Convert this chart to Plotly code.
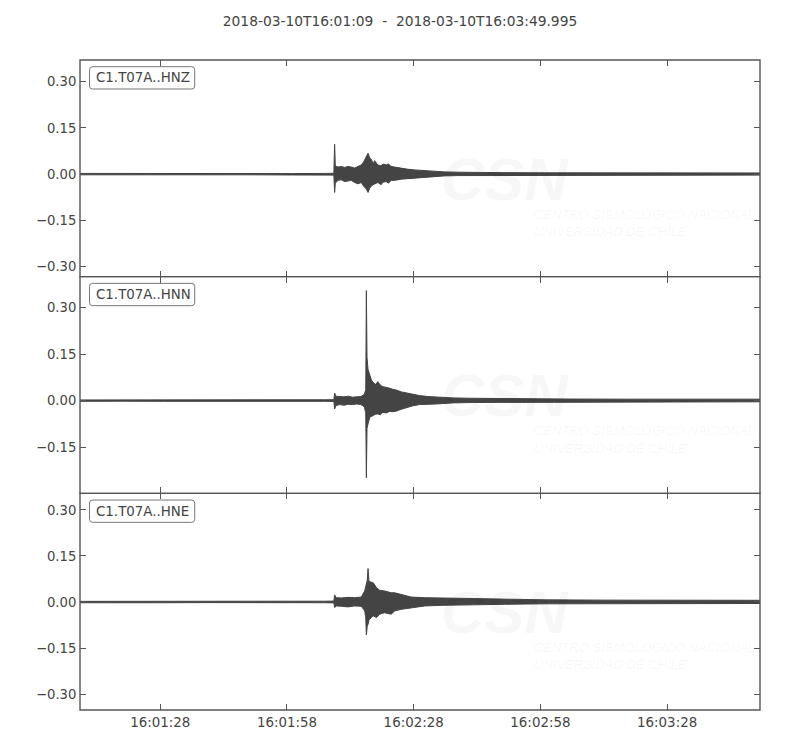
import pandas as pd
import plotly.graph_objects as go
from plotly.subplots import make_subplots

# ---------------- data (envelopes) ----------------
start_time = "2018-03-10 16:01:09"
end_time = "2018-03-10 16:03:49.995"
title_text = "2018-03-10T16:01:09\u00a0\u00a0-\u00a0\u00a02018-03-10T16:03:49.995"
channels = ["C1.T07A..HNZ", "C1.T07A..HNN", "C1.T07A..HNE"]

# seconds after start time
hnz_t = [0, 10, 20, 30, 40, 50, 57.9, 60.1, 60.28, 60.45, 61.07, 61.85, 62.65, 63.44, 64.22,
         65.0, 65.8, 66.6, 67.2, 67.8, 68.2, 68.6, 69.0, 69.4, 69.75, 70.5, 71.3, 71.7, 72.5,
         73.0, 73.7, 74.5, 76.1, 77.65, 79.2, 81.6, 84.0, 86.3, 89.5, 93.4, 100, 110, 120,
         130, 140, 150, 160.995]
hnz_up = [0.0025, 0.002, 0.0025, 0.002, 0.0025, 0.002, 0.0025, 0.003, 0.097, 0.027, 0.023,
          0.025, 0.022, 0.025, 0.023, 0.020, 0.025, 0.030, 0.041, 0.057, 0.068, 0.052, 0.048,
          0.033, 0.044, 0.030, 0.027, 0.033, 0.030, 0.033, 0.025, 0.023, 0.019, 0.016, 0.014,
          0.011, 0.009, 0.0075, 0.0065, 0.0055, 0.005, 0.0045, 0.0045, 0.004, 0.004, 0.004,
          0.004]
hnz_lo = [-0.002, -0.0025, -0.002, -0.0025, -0.002, -0.0025, -0.0025, -0.003, -0.059, -0.029,
          -0.020, -0.018, -0.024, -0.022, -0.020, -0.027, -0.031, -0.027, -0.040, -0.048,
          -0.059, -0.045, -0.038, -0.034, -0.031, -0.027, -0.034, -0.026, -0.024, -0.029,
          -0.020, -0.020, -0.016, -0.013, -0.012, -0.010, -0.0075, -0.0055, -0.0045, -0.0035,
          -0.0035, -0.003, -0.003, -0.003, -0.003, -0.003, -0.003]

hnn_t = [0, 10, 20, 30, 40, 50, 57.9, 60.1, 60.28, 60.6, 61.5, 62.5, 63.5, 64.5, 65.5, 66.5,
         67.3, 67.65, 67.8, 67.95, 68.2, 68.6, 69.0, 69.4, 70.0, 70.5, 71.1, 71.7, 72.5, 73.3,
         74.1, 74.9, 76.1, 77.3, 78.8, 80.4, 82.4, 84.4, 88.3, 92.3, 96.2, 103.3, 115, 130,
         145, 160.995]
hnn_up = [0.002, 0.0025, 0.002, 0.0025, 0.002, 0.0025, 0.0025, 0.003, 0.024, 0.014, 0.013,
          0.012, 0.014, 0.011, 0.012, 0.013, 0.020, 0.035, 0.355, 0.140, 0.100, 0.081, 0.066,
          0.059, 0.052, 0.061, 0.050, 0.045, 0.043, 0.040, 0.036, 0.034, 0.028, 0.024, 0.019,
          0.016, 0.013, 0.011, 0.0086, 0.0075, 0.007, 0.0055, 0.005, 0.0045, 0.0045, 0.0045]
hnn_lo = [-0.0025, -0.002, -0.0025, -0.002, -0.0025, -0.002, -0.0025, -0.003, -0.027, -0.016,
          -0.013, -0.015, -0.012, -0.013, -0.011, -0.013, -0.020, -0.040, -0.249, -0.090,
          -0.075, -0.054, -0.050, -0.048, -0.044, -0.043, -0.046, -0.038, -0.040, -0.035,
          -0.036, -0.034, -0.028, -0.022, -0.017, -0.013, -0.012, -0.011, -0.0075, -0.0065,
          -0.006, -0.005, -0.0045, -0.004, -0.004, -0.004]

hne_t = [0, 10, 20, 30, 40, 50, 57.9, 60.1, 60.28, 60.68, 61.85, 63.44, 65.0, 66.6, 67.4,
         67.65, 67.8, 68.0, 68.2, 68.4, 68.6, 69.4, 70.2, 70.94, 72.1, 73.7, 74.5, 76.1, 78.4,
         81.6, 85.5, 89.5, 93.4, 100.5, 110, 125, 140, 160.995]
hne_up = [0.002, 0.0025, 0.002, 0.0025, 0.002, 0.0025, 0.0025, 0.003, 0.023, 0.014, 0.013,
          0.015, 0.014, 0.016, 0.036, 0.050, 0.066, 0.070, 0.109, 0.070, 0.066, 0.063, 0.047,
          0.038, 0.036, 0.030, 0.030, 0.025, 0.016, 0.014, 0.012, 0.012, 0.011, 0.0087, 0.007,
          0.006, 0.006, 0.0055]
hne_lo = [-0.0025, -0.002, -0.0025, -0.002, -0.0025, -0.002, -0.0025, -0.003, -0.018, -0.013,
          -0.014, -0.016, -0.013, -0.014, -0.029, -0.050, -0.107, -0.080, -0.073, -0.060,
          -0.056, -0.045, -0.051, -0.040, -0.035, -0.040, -0.029, -0.024, -0.018, -0.013,
          -0.011, -0.010, -0.0085, -0.0076, -0.006, -0.005, -0.005, -0.005]

y_ranges = [[-0.332, 0.370], [-0.2995, 0.400], [-0.352, 0.354]]
y_tickvals = [-0.30, -0.15, 0.0, 0.15, 0.30]
y_ticktext = ["\u22120.30", "\u22120.15", "0.00", "0.15", "0.30"]
x_tickvals = ["2018-03-10 16:01:28", "2018-03-10 16:01:58", "2018-03-10 16:02:28",
              "2018-03-10 16:02:58", "2018-03-10 16:03:28"]
x_ticktext = ["16:01:28", "16:01:58", "16:02:28", "16:02:58", "16:03:28"]

# ---------------- figure ----------------
TRACE_COLOR = "#444444"
AXIS_COLOR = "#555555"
TEXT_COLOR = "#444444"
FONT = "DejaVu Sans"
WM_COLOR = "rgba(0,0,0,0.03)"
WM_TEXT_COLOR = "rgba(0,0,0,0.045)"
PAGE_OFFSET = 8  # default body margin of the html page

W, H = 800 - PAGE_OFFSET, 750 - PAGE_OFFSET

base = pd.Timestamp(start_time)


def to_dt(ts):
    return [(base + pd.Timedelta(seconds=s)).strftime("%Y-%m-%d %H:%M:%S.%f") for s in ts]


fig = make_subplots(rows=3, cols=1, shared_xaxes=True, vertical_spacing=0)

series = [(hnz_t, hnz_up, hnz_lo), (hnn_t, hnn_up, hnn_lo), (hne_t, hne_up, hne_lo)]
for i, (t, up, lo) in enumerate(series):
    r = i + 1
    xs = to_dt(t) + to_dt(t[::-1])
    ys = list(up) + list(lo[::-1])
    fig.add_trace(go.Scatter(x=xs, y=ys, mode="lines", fill="toself",
                             fillcolor=TRACE_COLOR,
                             line=dict(color=TRACE_COLOR, width=1),
                             hoverinfo="skip", showlegend=False), row=r, col=1)
    fig.update_yaxes(row=r, col=1, range=y_ranges[i], tickvals=y_tickvals,
                     ticktext=y_ticktext, ticks="inside", ticklen=6, tickwidth=1,
                     tickcolor=AXIS_COLOR, showline=True, linecolor="rgba(0,0,0,0)",
                     linewidth=1, mirror="ticks", showgrid=False, zeroline=False,
                     tickfont=dict(family=FONT, size=13.2, color=TEXT_COLOR))
    fig.update_xaxes(row=r, col=1, type="date", range=[start_time, end_time],
                     tickvals=x_tickvals, ticktext=x_ticktext, ticks="inside", ticklen=6,
                     tickwidth=1, tickcolor=AXIS_COLOR, showline=True,
                     linecolor="rgba(0,0,0,0)", linewidth=1, mirror="ticks",
                     showgrid=False, zeroline=False,
                     tickfont=dict(family=FONT, size=13.4, color=TEXT_COLOR))

    xd = "x domain" if r == 1 else f"x{r} domain"
    yd = "y domain" if r == 1 else f"y{r} domain"

    # faint watermark
    fig.add_annotation(xref=xd, yref=yd, x=0.625, y=0.45, text="<b><i>CSN</i></b>",
                       showarrow=False, font=dict(family="Liberation Sans", size=60,
                                                  color=WM_COLOR))
    fig.add_annotation(xref=xd, yref=yd, x=0.665, y=0.245, xanchor="left",
                       text="<i>CENTRO SISMOLÓGICO NACIONAL</i>", showarrow=False,
                       font=dict(family="Liberation Sans Narrow, Liberation Sans",
                                 size=13, color=WM_TEXT_COLOR))
    fig.add_annotation(xref=xd, yref=yd, x=0.665, y=0.165, xanchor="left",
                       text="<i>UNIVERSIDAD DE CHILE</i>", showarrow=False,
                       font=dict(family="Liberation Sans Narrow, Liberation Sans",
                                 size=13, color=WM_TEXT_COLOR))

    # panel frame
    fig.add_shape(type="rect", xref=xd, yref=yd, x0=0, x1=1, y0=0, y1=1,
                  line=dict(color=AXIS_COLOR, width=1.4), fillcolor="rgba(0,0,0,0)",
                  layer="above")

    # rounded label box
    fig.add_shape(type="path", xref=xd, yref=yd, xsizemode="pixel", ysizemode="pixel",
                  xanchor=0, yanchor=1,
                  path=("M 12.5,-6.7 L 111.7,-6.7 Q 114.7,-6.7 114.7,-9.7 L 114.7,-26 "
                        "Q 114.7,-29 111.7,-29 L 12.5,-29 Q 9.5,-29 9.5,-26 L 9.5,-9.7 "
                        "Q 9.5,-6.7 12.5,-6.7 Z"),
                  line=dict(color="#777777", width=1), fillcolor="white", layer="above")
    fig.add_annotation(xref=xd, yref=yd, x=0, y=1, xanchor="left", yanchor="middle",
                       xshift=14.5, yshift=-17.8, text=channels[i], showarrow=False,
                       borderpad=0,
                       font=dict(family=FONT, size=13.4, color=TEXT_COLOR))

fig.update_layout(
    width=W, height=H,
    margin=dict(l=80 - PAGE_OFFSET, r=40, t=60 - PAGE_OFFSET, b=40),
    paper_bgcolor="white", plot_bgcolor="white",
    title=dict(text=title_text, x=(400 - PAGE_OFFSET) / W, xref="container",
               xanchor="center", y=1 - (21 - PAGE_OFFSET) / H, yref="container",
               yanchor="middle",
               font=dict(family=FONT, size=13.8, color=TEXT_COLOR)),
    showlegend=False,
)

fig.write_html("out.html")
